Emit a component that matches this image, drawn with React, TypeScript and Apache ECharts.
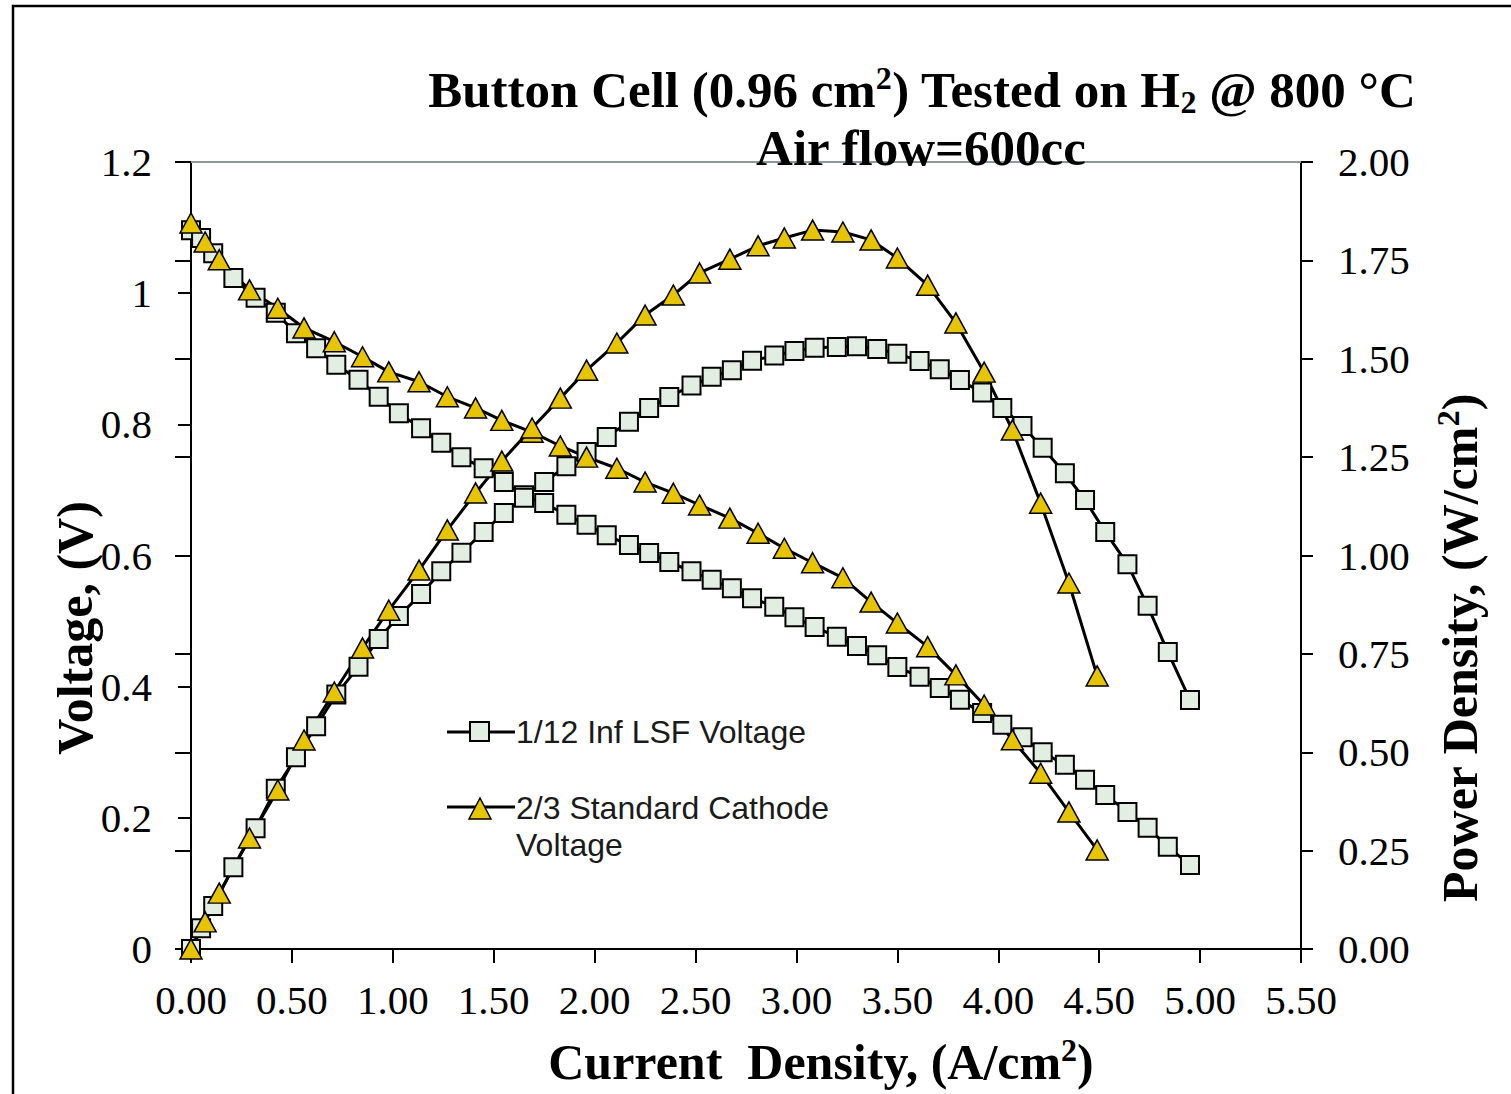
import { useEffect, useRef } from "react";
import * as echarts from "echarts";

// 1/12 Inf LSF cell: current density (A/cm²), voltage (V), power density (W/cm²)
const lsfCurrent = [
  0, 0.05, 0.11, 0.21, 0.32, 0.42, 0.52, 0.62, 0.72, 0.83, 0.93, 1.03, 1.14,
  1.24, 1.34, 1.45, 1.55, 1.65, 1.75, 1.86, 1.96, 2.06, 2.17, 2.27, 2.37, 2.48,
  2.58, 2.68, 2.78, 2.89, 2.99, 3.09, 3.2, 3.3, 3.4, 3.5, 3.61, 3.71, 3.81,
  3.92, 4.02, 4.12, 4.22, 4.33, 4.43, 4.53, 4.64, 4.74, 4.84, 4.95,
];
const lsfVoltage = [
  1.096, 1.084, 1.061, 1.023, 0.993, 0.97, 0.939, 0.916, 0.891, 0.868, 0.842,
  0.817, 0.794, 0.772, 0.75, 0.733, 0.712, 0.692, 0.68, 0.662, 0.647, 0.631,
  0.616, 0.604, 0.59, 0.576, 0.563, 0.55, 0.535, 0.522, 0.506, 0.491, 0.476,
  0.462, 0.448, 0.43, 0.415, 0.398, 0.38, 0.36, 0.342, 0.323, 0.3, 0.281,
  0.258, 0.235, 0.209, 0.185, 0.156, 0.128,
];
const lsfPower = [
  0, 0.053, 0.109, 0.208, 0.307, 0.407, 0.487, 0.566, 0.647, 0.717, 0.788,
  0.846, 0.902, 0.96, 1.007, 1.06, 1.108, 1.147, 1.187, 1.227, 1.263, 1.301,
  1.34, 1.375, 1.403, 1.432, 1.454, 1.471, 1.495, 1.508, 1.52, 1.528, 1.53,
  1.532, 1.525, 1.513, 1.494, 1.473, 1.446, 1.414, 1.375, 1.329, 1.274, 1.209,
  1.141, 1.06, 0.978, 0.872, 0.755, 0.633,
];

// 2/3 standard cathode cell
const stdCurrent = [
  0, 0.07, 0.14, 0.29, 0.43, 0.56, 0.71, 0.85, 0.98, 1.13, 1.27, 1.41, 1.54,
  1.69, 1.83, 1.96, 2.11, 2.25, 2.39, 2.52, 2.67, 2.81, 2.94, 3.08, 3.23, 3.37,
  3.5, 3.65, 3.79, 3.93, 4.07, 4.21, 4.35, 4.49,
];
const stdVoltage = [
  1.107, 1.078, 1.051, 1.005, 0.977, 0.947, 0.926, 0.903, 0.88, 0.865, 0.842,
  0.825, 0.806, 0.788, 0.767, 0.75, 0.733, 0.712, 0.695, 0.677, 0.657, 0.634,
  0.611, 0.589, 0.566, 0.529, 0.497, 0.461, 0.418, 0.372, 0.319, 0.268, 0.209,
  0.151,
];
const stdPower = [
  0, 0.069, 0.142, 0.282, 0.404, 0.531, 0.653, 0.765, 0.861, 0.963, 1.065,
  1.159, 1.24, 1.324, 1.4, 1.471, 1.54, 1.611, 1.662, 1.718, 1.753, 1.787,
  1.807, 1.827, 1.822, 1.802, 1.756, 1.687, 1.591, 1.466, 1.319, 1.133, 0.93,
  0.694,
];

const legendNames = ["1/12 Inf LSF Voltage", "2/3 Standard Cathode\nVoltage"];

const SERIF = '"Liberation Serif", "Times New Roman", serif';
const SANS = '"Liberation Sans", Arial, sans-serif';
const SQUARE_FILL = "#e2eee2";
const TRIANGLE_FILL = "#e6c400";
const LINE_WIDTH = 3;

const zip = (xs: number[], ys: number[]) => xs.map((x, i) => [x, ys[i]]);

const makeRich = (size: number) => ({
  b: { font: `bold ${size}px ${SERIF}`, lineHeight: 56, fill: "#000" },
  sup: { font: `bold 32px ${SERIF}`, lineHeight: 45, verticalAlign: "top", fill: "#000" },
  sub: { font: `bold 32px ${SERIF}`, lineHeight: 26, verticalAlign: "bottom", fill: "#000" },
});

const tickLabel = {
  color: "#000",
  fontFamily: SERIF,
  fontSize: 41,
};

const centered = {
  align: "center",
  verticalAlign: "middle",
  textAlign: "center",
  textVerticalAlign: "middle",
};

export default function App() {
  const ref = useRef<HTMLDivElement>(null);

  useEffect(() => {
    if (!ref.current) return;
    const chart = echarts.init(ref.current, undefined, { renderer: "svg" });

    const squareSeries = {
      type: "line",
      symbol: "rect",
      symbolSize: 18,
      showAllSymbol: true,
      lineStyle: { color: "#000", width: LINE_WIDTH },
      itemStyle: { color: SQUARE_FILL, borderColor: "#000", borderWidth: 2 },
      emphasis: { disabled: true },
      silent: true,
    };
    const triangleSeries = {
      type: "line",
      symbol: "triangle",
      symbolSize: [22, 20],
      showAllSymbol: true,
      lineStyle: { color: "#000", width: LINE_WIDTH },
      itemStyle: { color: TRIANGLE_FILL, borderColor: "#000", borderWidth: 1.5 },
      emphasis: { disabled: true },
      silent: true,
    };

    chart.setOption({
      animation: false,
      backgroundColor: "#fff",
      grid: { left: 191, right: 210, top: 162, bottom: 145, containLabel: false },
      xAxis: [
        {
          type: "value",
          min: 0,
          max: 5.5,
          interval: 0.5,
          position: "bottom",
          axisLine: { onZero: false, lineStyle: { color: "#000", width: 2 } },
          axisTick: { length: 14, lineStyle: { color: "#000", width: 2 } },
          axisLabel: { ...tickLabel, margin: 30, formatter: (v: number) => v.toFixed(2) },
          splitLine: { show: false },
        },
        {
          type: "value",
          min: 0,
          max: 5.5,
          position: "top",
          axisLine: { onZero: false, lineStyle: { color: "#8c9a9a", width: 2 } },
          axisTick: { show: false },
          axisLabel: { show: false },
          splitLine: { show: false },
        },
      ],
      yAxis: [
        {
          type: "value",
          min: 0,
          max: 1.2,
          interval: 0.2,
          position: "left",
          axisLine: { show: true, onZero: false, lineStyle: { color: "#000", width: 2 } },
          axisTick: { show: true, length: 13, lineStyle: { color: "#000", width: 2 } },
          axisLabel: { ...tickLabel, margin: 39 },
          splitLine: { show: false },
        },
        {
          type: "value",
          min: 0,
          max: 2,
          interval: 0.25,
          position: "right",
          axisLine: { show: true, onZero: false, lineStyle: { color: "#000", width: 2 } },
          axisTick: { show: true, length: 12, lineStyle: { color: "#000", width: 2 } },
          axisLabel: { ...tickLabel, margin: 37, formatter: (v: number) => v.toFixed(2) },
          splitLine: { show: false },
        },
        {
          // inner half of the crossing ticks on the power axis
          type: "value",
          min: 0,
          max: 2,
          interval: 0.25,
          position: "right",
          axisLine: { show: false },
          axisTick: { show: true, inside: true, length: 16, lineStyle: { color: "#000", width: 2 } },
          axisLabel: { show: false },
          splitLine: { show: false },
        },
      ],
      series: [
        { ...squareSeries, name: legendNames[0], yAxisIndex: 0, data: zip(lsfCurrent, lsfVoltage) },
        { ...squareSeries, name: "lsfPower", yAxisIndex: 1, data: zip(lsfCurrent, lsfPower) },
        { ...triangleSeries, name: legendNames[1], yAxisIndex: 0, data: zip(stdCurrent, stdVoltage) },
        { ...triangleSeries, name: "stdPower", yAxisIndex: 1, data: zip(stdCurrent, stdPower) },
      ],
      graphic: [
        // outer frame
        {
          type: "rect",
          z: 1,
          shape: { x: 13, y: 6, width: 1700, height: 1300 },
          style: { fill: "none", stroke: "#000", lineWidth: 2.5 },
          silent: true,
        },
        {
          type: "text",
          z: 100,
          x: 922,
          y: 90,
          style: {
            text: "{b|Button Cell (0.96 cm}{sup|2}{b|) Tested on H}{sub|2}{b| @ 800 °C}",
            rich: makeRich(51),
            ...centered,
          },
        },
        {
          type: "text",
          z: 100,
          x: 921,
          y: 148,
          style: {
            text: "Air flow=600cc",
            font: `bold 51px ${SERIF}`,
            fill: "#000",
            ...centered,
          },
        },
        {
          type: "text",
          z: 100,
          x: 821,
          y: 1062,
          style: {
            text: "{b|Current  Density, (A/cm}{sup|2}{b|)}",
            rich: makeRich(50),
            ...centered,
          },
        },
        {
          type: "text",
          z: 100,
          x: 75,
          y: 628,
          rotation: Math.PI / 2,
          style: {
            text: "{b|Voltage, (V)}",
            rich: makeRich(50),
            ...centered,
          },
        },
        {
          type: "text",
          z: 100,
          x: 1460,
          y: 648,
          rotation: Math.PI / 2,
          style: {
            text: "{b|Power Density, (W/cm}{sup|2}{b|)}",
            rich: makeRich(50),
            ...centered,
          },
        },
        // legend
        {
          type: "group",
          z: 100,
          children: [
            { type: "line", shape: { x1: 447, y1: 732, x2: 515, y2: 732 }, style: { stroke: "#000", lineWidth: LINE_WIDTH } },
            {
              type: "rect",
              shape: { x: 470, y: 722, width: 19, height: 19 },
              style: { fill: SQUARE_FILL, stroke: "#000", lineWidth: 2 },
            },
            {
              type: "text",
              x: 516,
              y: 732,
              style: {
                text: legendNames[0],
                font: `32px ${SANS}`,
                fill: "#1a1a1a",
                verticalAlign: "middle",
                textVerticalAlign: "middle",
              },
            },
            { type: "line", shape: { x1: 447, y1: 807, x2: 515, y2: 807 }, style: { stroke: "#000", lineWidth: LINE_WIDTH } },
            {
              type: "polygon",
              shape: { points: [[480, 798], [491, 819], [469, 819]] },
              style: { fill: TRIANGLE_FILL, stroke: "#000", lineWidth: 1.5 },
            },
            {
              type: "text",
              x: 516,
              y: 789,
              style: {
                text: legendNames[1],
                font: `32px ${SANS}`,
                lineHeight: 37,
                fill: "#1a1a1a",
                verticalAlign: "top",
                textVerticalAlign: "top",
              },
            },
          ],
        },
      ],
    });

    return () => chart.dispose();
  }, []);

  return (
    <div
      ref={ref}
      style={{ position: "absolute", left: 0, top: 0, width: 1511, height: 1094, background: "#fff" }}
    />
  );
}
